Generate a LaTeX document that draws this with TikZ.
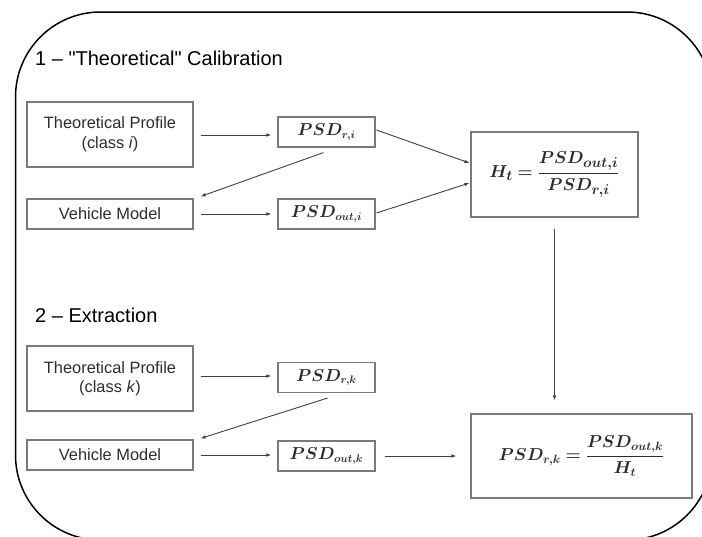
\documentclass[tikz,border=0pt]{standalone}
\usepackage{fontspec}
\setmainfont{Liberation Sans}
\newfontfamily\titlefont{Liberation Sans}[Ligatures=TeXOff]
\usepackage{amsmath}
\usepackage{bm}
\usetikzlibrary{arrows.meta}
\definecolor{txt}{HTML}{2B2B38}
\definecolor{bord}{HTML}{7A7A7A}
\definecolor{conn}{HTML}{404040}
\begin{document}
\begin{tikzpicture}[x=1pt,y=-1pt,
  box/.style={draw=bord, line width=1.1pt, inner sep=0pt, text=txt, align=center,
    font=\fontsize{16.4}{19.5}\selectfont},
  bigbox/.style={box, minimum width=166pt, minimum height=65pt},
  vbox/.style={box, minimum width=166pt, minimum height=30pt},
  psd/.style={box, minimum width=97pt, minimum height=30pt, font=\fontsize{16}{18}\selectfont},
  eqbox/.style={box, font=\fontsize{19}{22}\selectfont},
  title/.style={anchor=west, inner sep=0pt, text=black, font=\titlefont\fontsize{20}{24}\selectfont},
  arr/.style={draw=conn, line width=0.9pt, -{Latex[length=5pt,width=3.6pt]}},
]
\useasboundingbox (0,0) rectangle (702,536);
\begin{scope}
\clip (0,0) rectangle (702,536);
\draw[line width=1.5pt, rounded corners=85pt] (15.5,12) rectangle (712,540);
\end{scope}

\node[title] (t1) at (35,58) {1 – "Theoretical" Calibration};
\node[title] (t2) at (35,315) {2 – Extraction};

% section 1
\node[bigbox] (tp1) at (110,134.5) {Theoretical Profile\\(class \textit{i})};
\node[psd] (pr1) at (326.5,132) {$\bm{PSD_{r,i}}$};
\node[vbox] (vm1) at (110,214) {Vehicle Model};
\node[psd] (po1) at (326.5,214) {$\bm{PSD_{out,i}}$};
\node[eqbox, minimum width=167pt, minimum height=85pt] (ht) at (554.5,174.5)
  {$\bm{H_t = \dfrac{PSD_{out,i}}{PSD_{r,i}}}$};

% section 2
\node[bigbox] (tp2) at (110,378.5) {Theoretical Profile\\(class \textit{k})};
\node[psd] (pr2) at (326.5,377.5) {$\bm{PSD_{r,k}}$};
\node[vbox] (vm2) at (110,455) {Vehicle Model};
\node[psd] (po2) at (326.5,456) {$\bm{PSD_{out,k}}$};
\node[eqbox, minimum width=221pt, minimum height=84pt, font=\fontsize{18}{21}\selectfont] (res) at (581.5,456)
  {$\bm{PSD_{r,k} = \dfrac{PSD_{out,k}}{H_t}}$};

% connectors section 1
\draw[arr, shorten <=7pt, shorten >=6pt] (tp1.east |- 0,135) -- (pr1.west |- 0,135);
\draw[arr, shorten <=7pt, shorten >=6pt] (vm1.east) -- (vm1.east -| po1.west);
\draw[arr] ([shift={(-3,5)}]pr1.south) -- ([shift={(7,-2)}]vm1.north east);
\draw[arr] ([shift={(1,-2)}]pr1.east) -- ([shift={(-1,-11.5)}]ht.west);
\draw[arr] ([shift={(1,-1)}]po1.east) -- ([shift={(-1,8.5)}]ht.west);
\draw[arr, shorten <=11pt, shorten >=13pt] (ht.south) -- (ht.south |- res.north);

% connectors section 2
\draw[arr, shorten <=7pt, shorten >=6pt] (tp2.east |- 0,376) -- (pr2.west |- 0,376);
\draw[arr, shorten <=7pt, shorten >=6pt] (vm2.east) -- (vm2.east -| po2.west);
\draw[arr] ([shift={(1,5)}]pr2.south) -- ([shift={(7,-1)}]vm2.north east);
\draw[arr, shorten <=9pt, shorten >=14pt] (po2.east) -- (po2.east -| res.west);
\end{tikzpicture}
\end{document}
